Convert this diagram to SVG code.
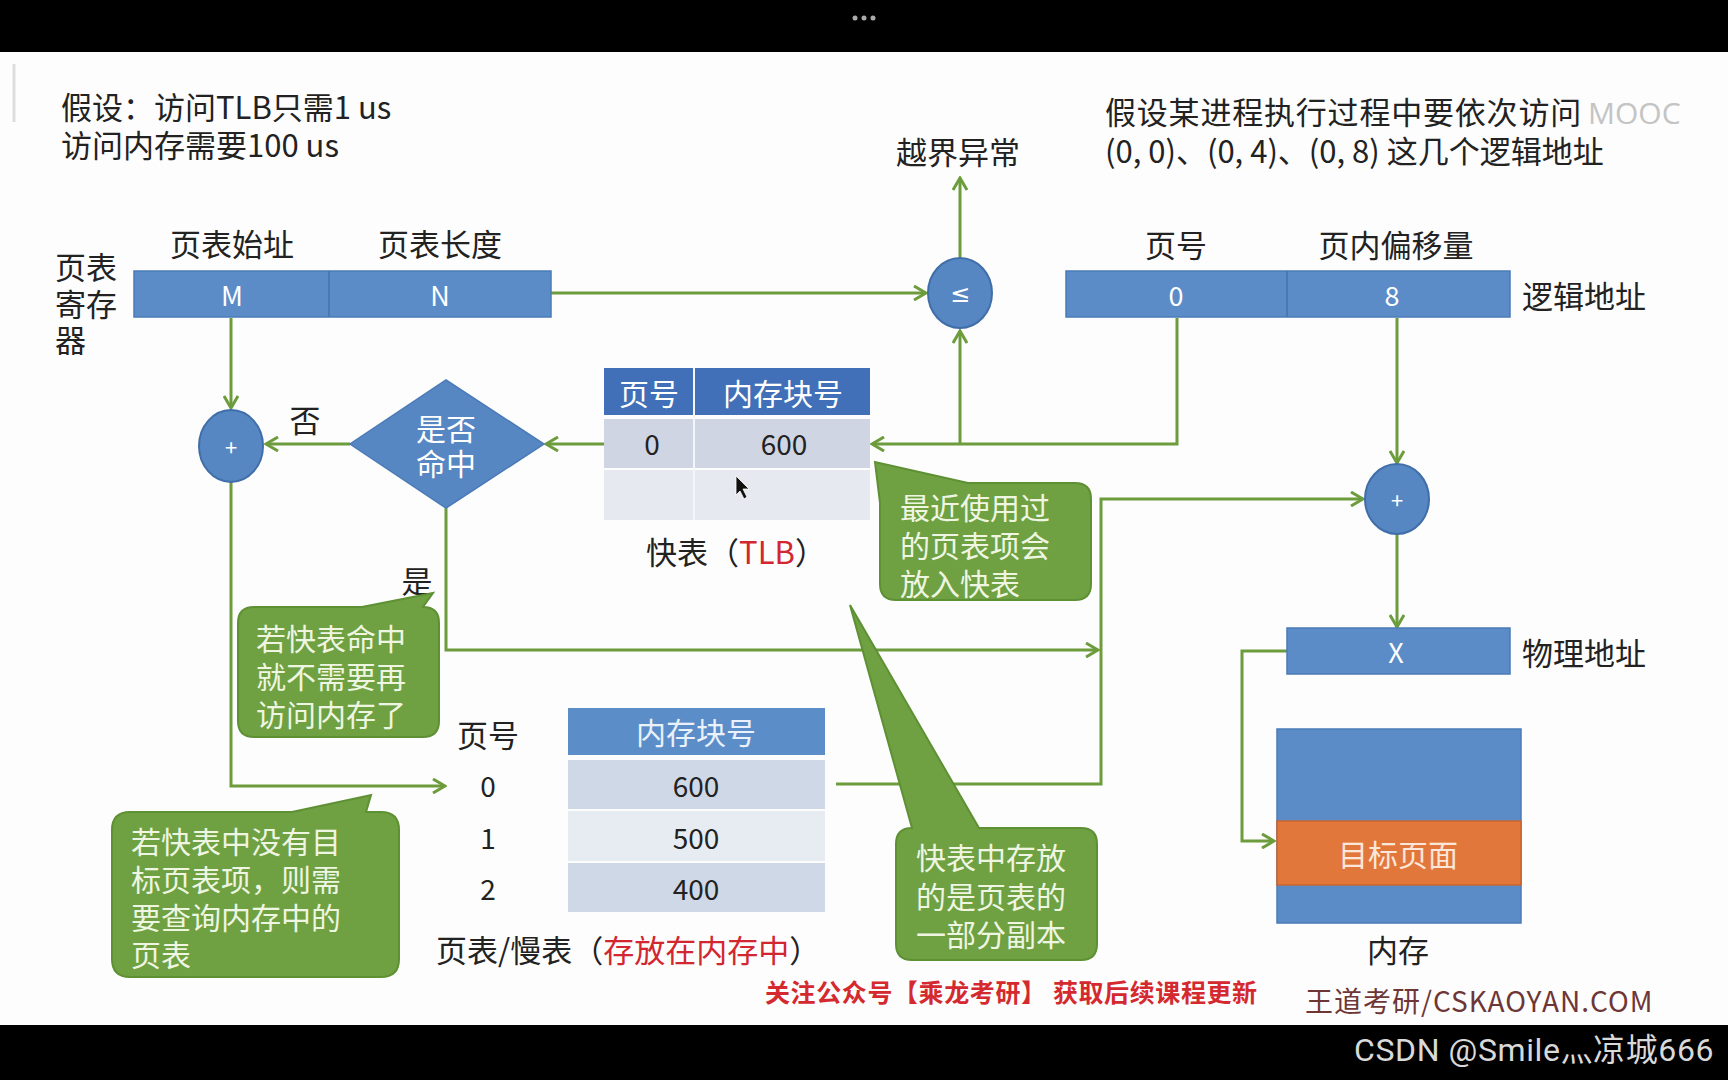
<svg xmlns="http://www.w3.org/2000/svg" width="1728" height="1080" viewBox="0 0 1728 1080">
<defs>
<style>
.t{font-family:"Noto Sans CJK SC","Noto Sans",sans-serif;font-size:31px;fill:#222;dominant-baseline:central}
.m{text-anchor:middle}
.w{fill:#fff;font-size:27px}
.ct{fill:#eef6e2;font-size:30px}
.red{fill:#d22630}
.box{fill:#5b8cc8;stroke:#4a7bb7;stroke-width:1.5}
.div{stroke:#4373ad;stroke-width:1.5}
.circ{fill:#5787c3;stroke:#3f6ea8;stroke-width:2}
.call{fill:#6fa142;stroke:#5e9034;stroke-width:2}
.conn path{fill:none;stroke:#6c9c3c;stroke-width:3;marker-end:url(#ah)}
</style>
<marker id="ah" viewBox="0 0 16 16" refX="14" refY="8" markerWidth="16" markerHeight="16" markerUnits="userSpaceOnUse" orient="auto">
<path d="M2,1 L14,8 L2,15" fill="none" stroke="#6c9c3c" stroke-width="3"/>
</marker>
</defs>

<rect x="0" y="0" width="1728" height="1080" fill="#fdfdfd"/>
<rect x="0" y="0" width="1728" height="52" fill="#000"/>
<circle cx="855" cy="18" r="2.5" fill="#aaa"/>
<circle cx="864" cy="18" r="2.5" fill="#aaa"/>
<circle cx="873" cy="18" r="2.5" fill="#aaa"/>
<line x1="14" y1="64" x2="14" y2="122" stroke="#ddd" stroke-width="3"/>
<rect x="0" y="1025" width="1728" height="55" fill="#000"/>

<g id="notes">
<text class="t" x="61" y="105">假设：访问TLB只需1 us</text>
<text class="t" x="61" y="143">访问内存需要100 us</text>
<text class="t" x="1105" y="110" style="letter-spacing:0.8px">假设某进程执行过程中要依次访问</text>
<text class="t" x="1588" y="112" style="fill:#c4c4c4;font-family:'Open Sans',sans-serif;font-size:30px">MOOC</text>
<text class="t" x="1105" y="149">(0, 0)、(0, 4)、(0, 8) 这几个逻辑地址</text>
<text class="t m" x="958" y="150">越界异常</text>
</g>

<g id="conns" class="conn">
<path d="M231,318 L231,408"/>
<path d="M551,293 L926,293"/>
<path d="M960,257 L960,178"/>
<path d="M1177,318 L1177,444 L872,444"/>
<path d="M960,444 L960,331"/>
<path d="M604,444 L546,444"/>
<path d="M350,444 L266,444"/>
<path d="M231,482 L231,786 L445,786"/>
<path d="M446,508 L446,650 L1098,650"/>
<path d="M836,784 L1101,784 L1101,499 L1363,499"/>
<path d="M1397,318 L1397,463"/>
<path d="M1397,534 L1397,627"/>
<path d="M1287,651 L1242,651 L1242,841 L1274,841"/>
</g>

<g id="page-table-register">
<text class="t" x="55" y="265">页表</text>
<text class="t" x="55" y="302">寄存</text>
<text class="t" x="55" y="338">器</text>
<text class="t m" x="232" y="242">页表始址</text>
<text class="t m" x="440" y="242">页表长度</text>
<rect class="box" x="134" y="271" width="417" height="46"/>
<line class="div" x1="329" y1="271" x2="329" y2="317"/>
<text class="t m w" x="232" y="294">M</text>
<text class="t m w" x="440" y="294">N</text>
</g>

<g id="compare">
<ellipse class="circ" cx="960" cy="293" rx="32" ry="35"/>
<text class="t m w" x="960" y="294" style="font-size:24px;font-family:'DejaVu Sans',sans-serif">≤</text>
</g>

<g id="logical-address">
<text class="t m" x="1176" y="243">页号</text>
<text class="t m" x="1396" y="243">页内偏移量</text>
<rect class="box" x="1066" y="271" width="444" height="46"/>
<line class="div" x1="1287" y1="271" x2="1287" y2="317"/>
<text class="t m w" x="1176" y="294">0</text>
<text class="t m w" x="1392" y="294">8</text>
<text class="t" x="1522" y="294">逻辑地址</text>
</g>

<g id="tlb">
<rect x="604" y="368" width="266" height="47" fill="#4170b8"/>
<rect x="604" y="419" width="266" height="49" fill="#cfd5e2"/>
<rect x="604" y="470" width="266" height="50" fill="#e6e9f0"/>
<line x1="694" y1="368" x2="694" y2="520" stroke="#f4f6fa" stroke-width="2"/>
<text class="t m" x="649" y="392" style="fill:#fff;font-size:30px">页号</text>
<text class="t m" x="783" y="392" style="fill:#fff;font-size:30px">内存块号</text>
<text class="t m" x="652" y="443" style="font-size:28px">0</text>
<text class="t m" x="784" y="443" style="font-size:28px">600</text>
<text class="t m" x="736" y="550">快表（<tspan class="red">TLB</tspan>）</text>
<path d="M736,476 L736,495 L740,491 L744,499 L747,497 L743,489 L749,489 Z" fill="#111" stroke="#fff" stroke-width="0.8"/>
</g>

<g id="hit-decision">
<polygon points="446,380 544,444 446,508 350,444" fill="#5787c3" stroke="#4a7bb7" stroke-width="1.5"/>
<text class="t m" x="446" y="427" style="fill:#fff;font-size:30px">是否</text>
<text class="t m" x="446" y="462" style="fill:#fff;font-size:30px">命中</text>
<text class="t m" x="305" y="418">否</text>
<text class="t m" x="417" y="579">是</text>
</g>

<g id="adder-left">
<ellipse class="circ" cx="231" cy="446" rx="32" ry="36"/>
<text class="t m w" x="231" y="446" style="font-size:22px">+</text>
</g>

<g id="adder-right">
<ellipse class="circ" cx="1397" cy="499" rx="32" ry="35"/>
<text class="t m w" x="1397" y="499" style="font-size:22px">+</text>
</g>

<g id="physical-address">
<rect class="box" x="1287" y="628" width="223" height="46"/>
<text class="t m w" x="1396" y="651">X</text>
<text class="t" x="1522" y="651">物理地址</text>
</g>

<g id="memory">
<rect x="1277" y="729" width="244" height="194" fill="#5b8cc8" stroke="#4a7bb7" stroke-width="1.5"/>
<rect x="1277" y="821" width="244" height="64" fill="#e2773b" stroke="#c9652f" stroke-width="1.5"/>
<text class="t m" x="1398" y="853" style="fill:#fbe7da;font-size:30px">目标页面</text>
<text class="t m" x="1398" y="948">内存</text>
</g>

<g id="page-table">
<text class="t m" x="488" y="733">页号</text>
<rect x="568" y="708" width="257" height="47" fill="#5b8ec9"/>
<rect x="568" y="760" width="257" height="49" fill="#cfd8e6"/>
<rect x="568" y="811" width="257" height="50" fill="#e7ebf2"/>
<rect x="568" y="863" width="257" height="49" fill="#cfd8e6"/>
<text class="t m" x="696" y="731" style="fill:#eaf1fa;font-size:30px">内存块号</text>
<text class="t m" x="488" y="785" style="font-size:28px">0</text>
<text class="t m" x="488" y="837" style="font-size:28px">1</text>
<text class="t m" x="488" y="888" style="font-size:28px">2</text>
<text class="t m" x="696" y="785" style="font-size:28px">600</text>
<text class="t m" x="696" y="837" style="font-size:28px">500</text>
<text class="t m" x="696" y="888" style="font-size:28px">400</text>
<text class="t" x="436" y="948">页表/慢表（<tspan class="red">存放在内存中</tspan>）</text>
</g>

<g id="callout-recent">
<path class="call" d="M968,483 L1075,483 Q1091,483 1091,499 L1091,584 Q1091,600 1075,600 L896,600 Q880,600 880,584 L880,503 L875,462 Z"/>
<text class="t ct" x="900" y="506">最近使用过</text>
<text class="t ct" x="900" y="544">的页表项会</text>
<text class="t ct" x="900" y="582">放入快表</text>
</g>

<g id="callout-hit">
<path class="call" d="M254,607 L362,607 L433,593 L423,607 Q439,607 439,623 L439,721 Q439,737 423,737 L254,737 Q238,737 238,721 L238,623 Q238,607 254,607 Z"/>
<text class="t ct" x="256" y="637">若快表命中</text>
<text class="t ct" x="256" y="675">就不需要再</text>
<text class="t ct" x="256" y="713">访问内存了</text>
</g>

<g id="callout-miss">
<path class="call" d="M130,812 L292,812 L371,795 L366,812 L381,812 Q399,812 399,830 L399,959 Q399,977 381,977 L130,977 Q112,977 112,959 L112,830 Q112,812 130,812 Z"/>
<text class="t ct" x="131" y="840">若快表中没有目</text>
<text class="t ct" x="131" y="878">标页表项，则需</text>
<text class="t ct" x="131" y="916">要查询内存中的</text>
<text class="t ct" x="131" y="953">页表</text>
</g>

<g id="callout-copy">
<path class="call" d="M912,828 L850,605 L979,828 L1081,828 Q1097,828 1097,844 L1097,944 Q1097,960 1081,960 L912,960 Q896,960 896,944 L896,844 Q896,828 912,828 Z"/>
<text class="t ct" x="916" y="856">快表中存放</text>
<text class="t ct" x="916" y="895">的是页表的</text>
<text class="t ct" x="916" y="933">一部分副本</text>
</g>

<g id="footer">
<text class="t" x="765" y="991" style="fill:#d42a2f;font-size:25px;font-weight:bold;letter-spacing:0.6px">关注公众号【乘龙考研】 获取后续课程更新</text>
<text class="t" x="1305" y="1000" style="fill:#6e3636;font-size:28px;letter-spacing:1px">王道考研/CSKAOYAN.COM</text>
<text class="t" x="1354" y="1050" style="fill:#d9d9d9;font-size:32px;letter-spacing:0.6px;font-family:'Roboto','Noto Sans CJK SC',sans-serif">CSDN @Smile灬凉城666</text>
</g>
</svg>
